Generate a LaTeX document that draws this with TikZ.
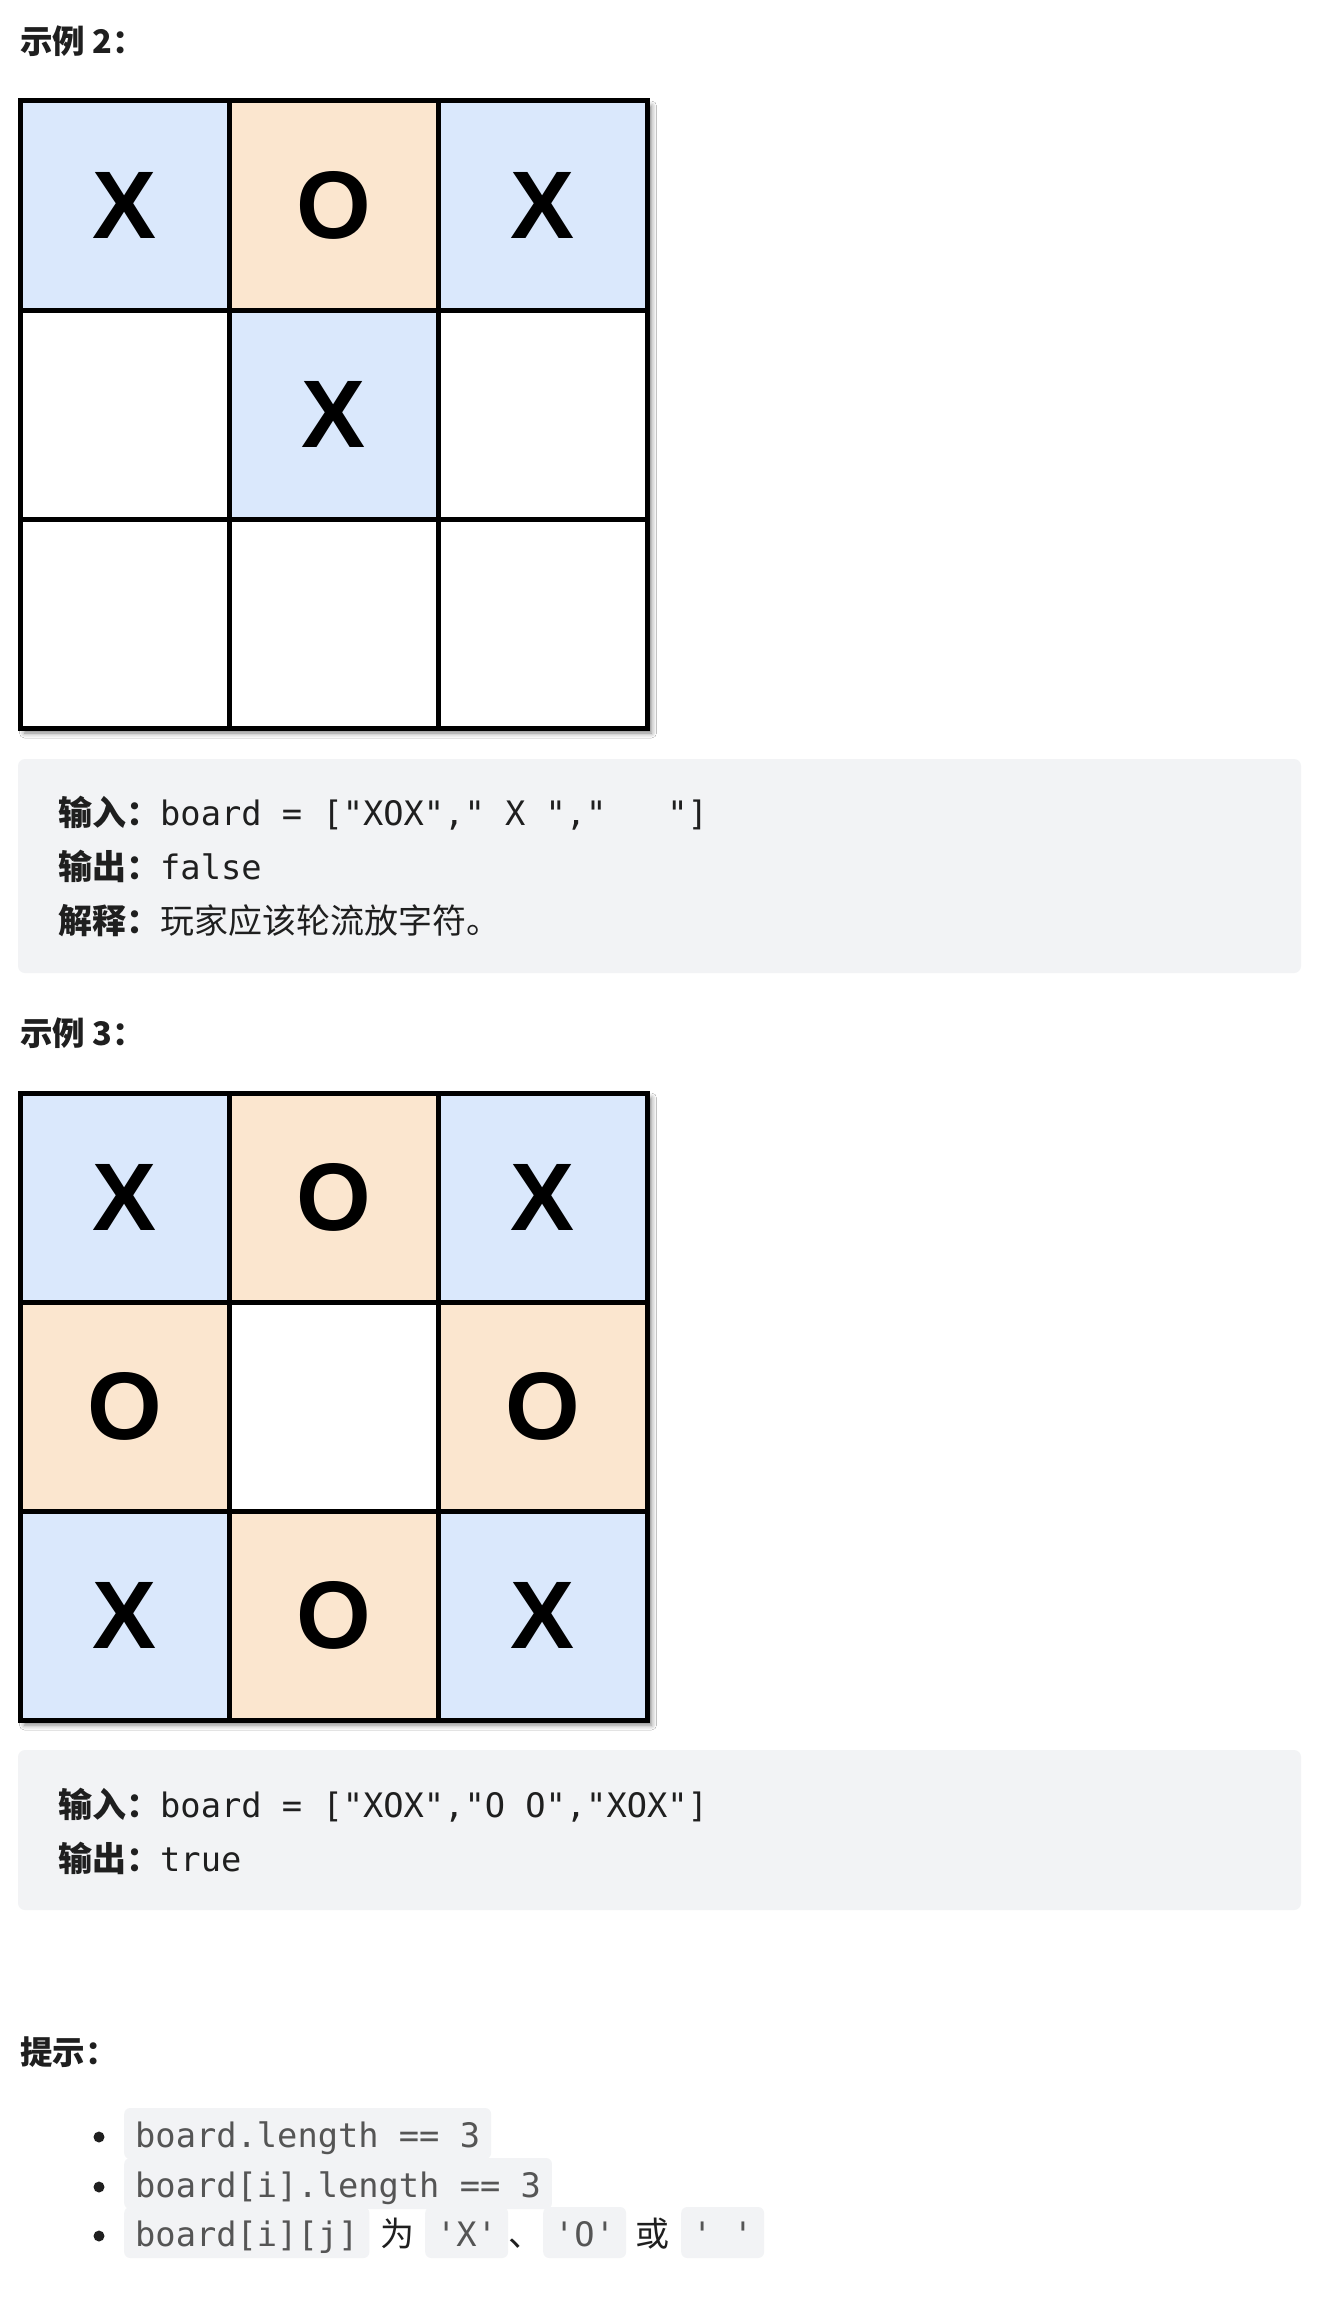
\documentclass[tikz,border=0pt]{standalone}
\usepackage{fontspec}
\usepackage{xcolor}
\usetikzlibrary{shadows.blur}
\newfontfamily\cjk{Noto Sans CJK SC}
\newfontfamily\mono{DejaVu Sans Mono}
\newfontfamily\xofont{Liberation Sans}
\definecolor{xblue}{HTML}{DAE8FC}
\definecolor{oorange}{HTML}{FBE6CF}
\definecolor{boxgray}{HTML}{F2F3F5}
\definecolor{inkdark}{HTML}{1F1F1F}
\definecolor{chipink}{HTML}{555555}
\newcommand{\codefont}{\mono\fontsize{33.7pt}{40pt}\selectfont}
\newcommand{\cjkfont}{\cjk\fontsize{34pt}{40pt}\selectfont}
\newcommand{\headfont}{\cjk\bfseries\fontsize{32.5pt}{40pt}\selectfont}
\newcommand{\xofnt}{\xofont\bfseries\fontsize{96pt}{96pt}\selectfont}

\tikzset{
  cell/.style={draw=black, line width=5pt, minimum size=209pt, inner sep=0pt, font=\xofnt},
  xcell/.style={cell, fill=xblue},
  ocell/.style={cell, fill=oorange},
  ecell/.style={cell, fill=white},
  textline/.style={anchor=base west, inner sep=0pt, text=inkdark},
  chip/.style={anchor=base west, fill=boxgray, rounded corners=6pt, inner xsep=11pt,
    inner ysep=0pt, text height=39pt, text depth=12pt, text=chipink, font=\codefont},
  boardshadow/.style={fill=white, blur shadow={shadow xshift=4pt, shadow yshift=-5pt,
    shadow blur radius=5pt, shadow opacity=50}},
  codebox/.style={fill=boxgray, rounded corners=7pt}
}

\begin{document}
\begin{tikzpicture}[x=1pt,y=-1pt]
  \fill[white] (0,0) rectangle (1334,2304);
  \useasboundingbox (0,0) rectangle (1334,2304);

  % example 2
  \node[textline, font=\headfont] (ex2) at (20,53.5) {示例 2：};
  \path[boardshadow] (20.5,101) rectangle (647.5,728);
  \node[xcell] (a1) at (125,205.5) {X};
  \node[ocell] (a2) at (334,205.5) {O};
  \node[xcell] (a3) at (543,205.5) {X};
  \node[ecell] (a4) at (125,414.5) {};
  \node[xcell] (a5) at (334,414.5) {X};
  \node[ecell] (a6) at (543,414.5) {};
  \node[ecell] (a7) at (125,623.5) {};
  \node[ecell] (a8) at (334,623.5) {};
  \node[ecell] (a9) at (543,623.5) {};

  \fill[codebox] (18,759) rectangle (1301,973);
  \node[textline] (in1) at (58,825) {{\cjkfont\bfseries 输入：}{\codefont board~=~["XOX","~X~","~~~"]}};
  \node[textline] (out1) at (58,879) {{\cjkfont\bfseries 输出：}{\codefont false}};
  \node[textline] (exp1) at (58,933) {{\cjkfont\bfseries 解释：}{\cjkfont 玩家应该轮流放字符。}};

  % example 3
  \node[textline, font=\headfont] (ex3) at (20,1045.5) {示例 3：};
  \path[boardshadow] (20.5,1093) rectangle (647.5,1720);
  \node[xcell] (b1) at (125,1197.5) {X};
  \node[ocell] (b2) at (334,1197.5) {O};
  \node[xcell] (b3) at (543,1197.5) {X};
  \node[ocell] (b4) at (125,1406.5) {O};
  \node[ecell] (b5) at (334,1406.5) {};
  \node[ocell] (b6) at (543,1406.5) {O};
  \node[xcell] (b7) at (125,1615.5) {X};
  \node[ocell] (b8) at (334,1615.5) {O};
  \node[xcell] (b9) at (543,1615.5) {X};

  \fill[codebox] (18,1750) rectangle (1301,1910);
  \node[textline] (in2) at (58,1817) {{\cjkfont\bfseries 输入：}{\codefont board~=~["XOX","O~O","XOX"]}};
  \node[textline] (out2) at (58,1871) {{\cjkfont\bfseries 输出：}{\codefont true}};

  % hints
  \node[textline, font=\headfont] (hint) at (20,2064.5) {提示：};
  \foreach \y in {2137,2187,2236}
    \fill[inkdark] (99,\y) circle (5.5pt);
  \node[chip] (len1) at (124,2147) {board.length~==~3};
  \node[chip] (len2) at (124,2197) {board[i].length~==~3};
  \node[chip] (cellij) at (124,2246) {board[i][j]};
  \node[textline, font=\cjkfont] (wei) at (380,2246) {为};
  \node[chip] (qx) at (425,2246) {'X'};
  \node[textline, font=\cjkfont] (dun) at (508,2246) {、};
  \node[chip] (qo) at (543,2246) {'O'};
  \node[textline, font=\cjkfont] (huo) at (635,2246) {或};
  \node[chip] (qsp) at (681,2246) {'~'};
\end{tikzpicture}
\end{document}
